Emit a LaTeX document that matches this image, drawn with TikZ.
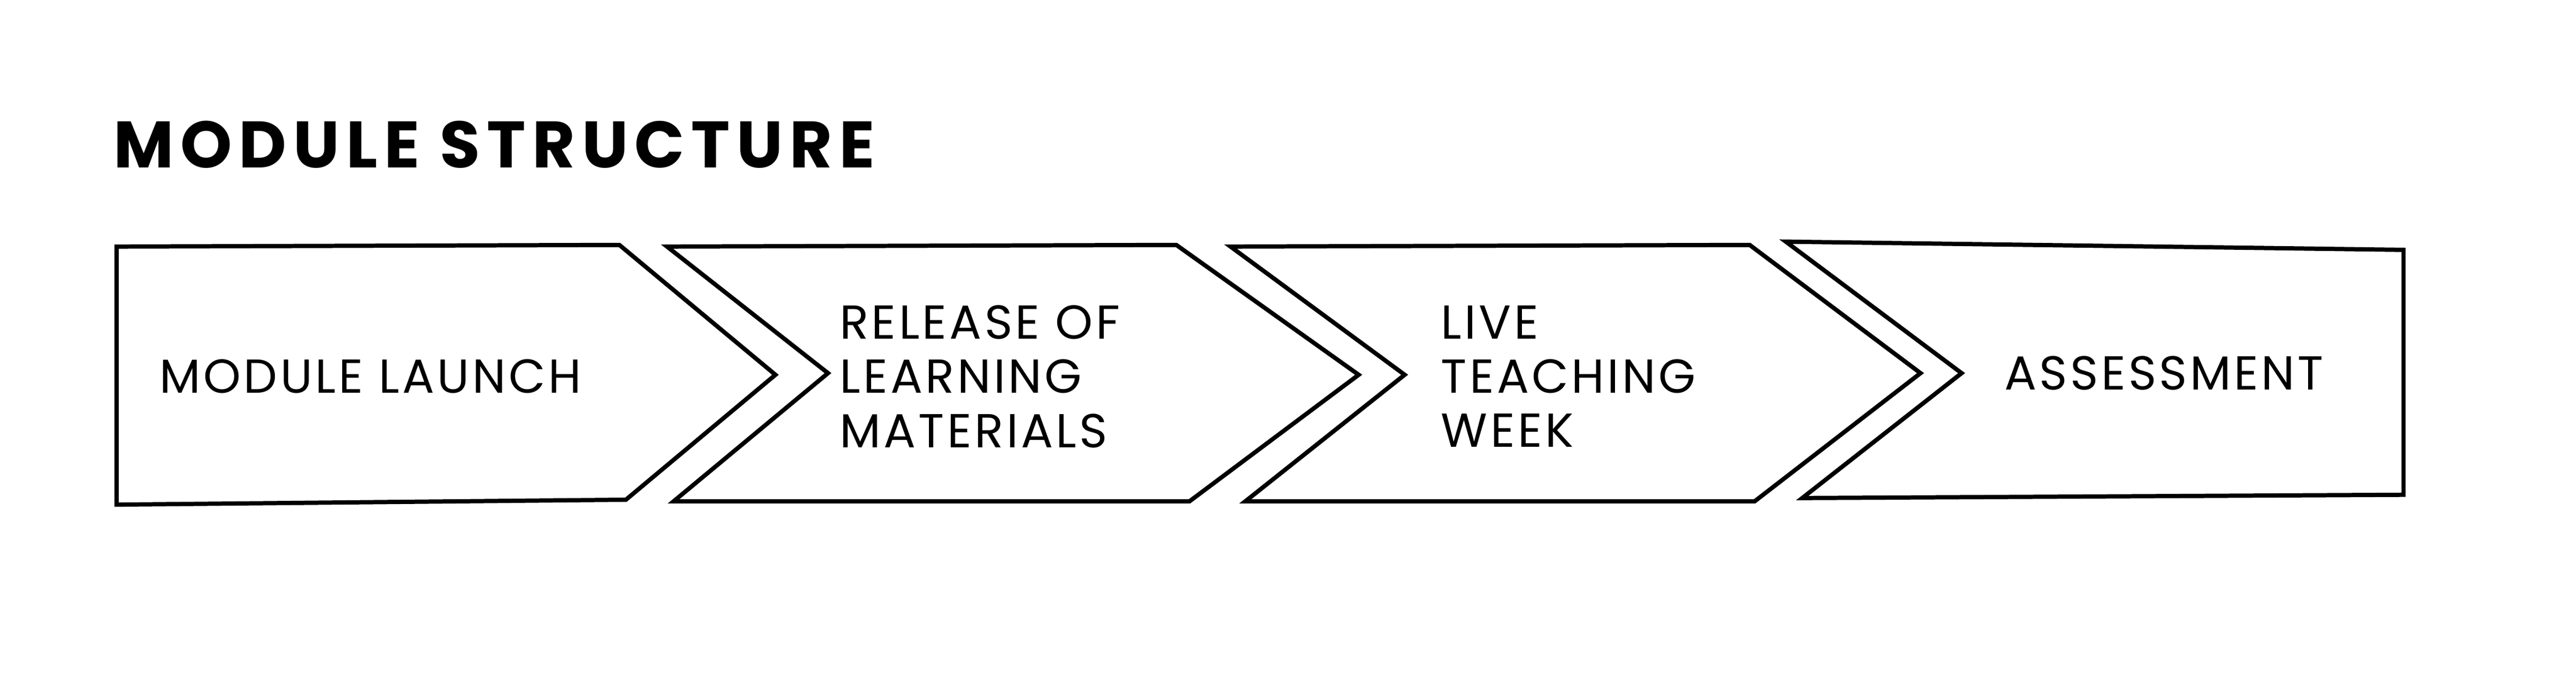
\documentclass[tikz,border=0pt]{standalone}
\usepackage{fontspec}
\setmainfont{Poppins}
\newfontfamily\titlefont[LetterSpace=10]{Poppins}
\newfontfamily\labelfont[LetterSpace=6]{Poppins}
\begin{document}
\begin{tikzpicture}[x=1pt,y=-1pt,
  chev/.style={draw=black,line width=2.6pt,line join=miter,fill=white},
  lbl/.style={anchor=west,align=left,font=\labelfont\fontsize{29}{33}\selectfont,inner sep=0pt}]
\useasboundingbox (0,0) rectangle (1568,413);
\node[anchor=base west,inner sep=0pt,font=\titlefont\fontsize{40}{40}\selectfont\bfseries] (title) at (69,102) {MODULE STRUCTURE};
\draw[chev] (71,150) -- (377,149) -- (472,228) -- (381,304) -- (71,307) -- cycle;
\draw[chev] (406,150) -- (716,149) -- (827,228) -- (724,305) -- (410,305) -- (504,227) -- cycle;
\draw[chev] (749,150) -- (1065,149) -- (1169,227) -- (1068,305) -- (758,305) -- (855,228) -- cycle;
\draw[chev] (1087,147) -- (1463,152) -- (1463,301) -- (1097,303) -- (1194,227) -- cycle;
\node[lbl] (a) at (97,229) {MODULE LAUNCH};
\node[lbl] (b) at (511,229) {RELEASE OF\\LEARNING\\MATERIALS};
\node[lbl] (c) at (877,229) {LIVE\\TEACHING\\WEEK};
\node[lbl] (d) at (1220,227) {ASSESSMENT};
\end{tikzpicture}
\end{document}
